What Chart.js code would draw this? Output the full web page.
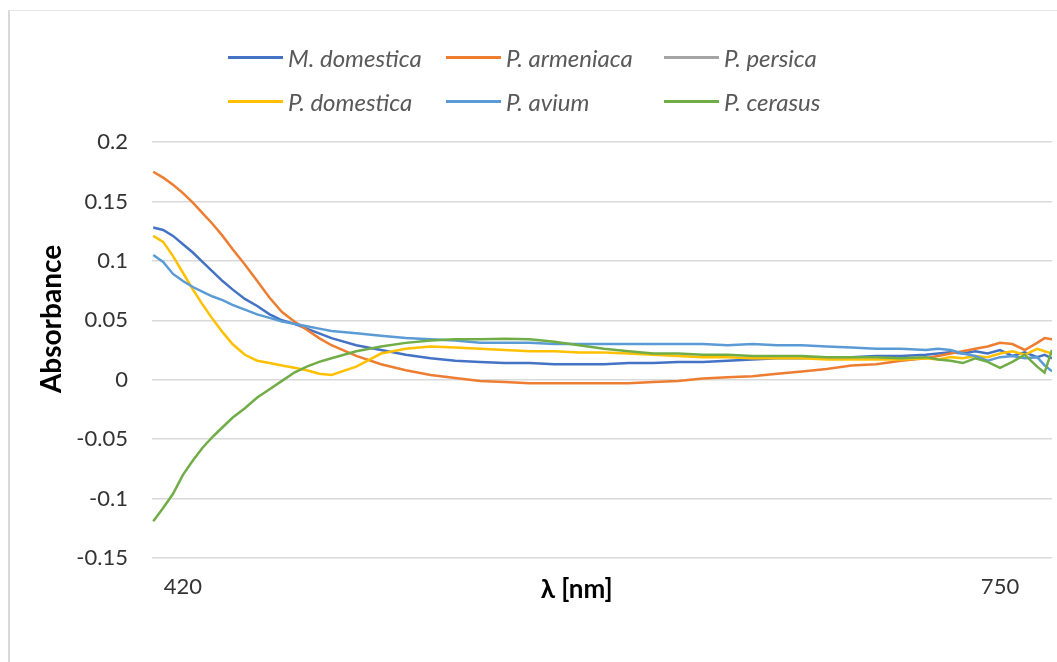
<!DOCTYPE html>
<html>
<head>
<meta charset="utf-8">
<script src="https://cdn.jsdelivr.net/npm/chart.js@4/dist/chart.umd.min.js"></script>
<style>
  html, body { margin: 0; padding: 0; background: #fff; }
  #wrap { position: relative; width: 1057px; height: 662px; overflow: hidden; }
  #frame { position: absolute; left: 8px; top: 10px; width: 1200px; height: 800px;
           border-left: 2px solid #d9d9d9; border-top: 1px solid #e6e6e6; box-sizing: border-box; }
  canvas { position: absolute; left: 0; top: 0; }
  #legend { position: absolute; left: 0; top: 0; font-family: Lato, "Open Sans", sans-serif; }
  .li { position: absolute; height: 30px; display: flex; align-items: center; white-space: nowrap;
        font-style: italic; font-size: 24px; color: #595959; }
  .li .sw { width: 55px; height: 3px; margin-right: 5px; }
</style>
</head>
<body>
<div id="wrap">
  <div id="frame"></div>
  <canvas id="c" width="1057" height="662"></canvas>
  <div id="legend"></div>
</div>
<script>
// ---- data ----
const wavelengths = [408,412,416,420,424,428,432,436,440,445,450,455,460,465,470,475,480,490,500,510,520,530,540,550,560,570,580,590,600,610,620,630,640,650,660,670,680,690,700,710,720,725,730,735,740,745,750,755,760,765,768,771];

const seriesNames = ['M. domestica', 'P. armeniaca', 'P. persica', 'P. domestica', 'P. avium', 'P. cerasus'];
const seriesColors = ['#4472C4', '#ED7D31', '#A5A5A5', '#FFC000', '#5B9BD5', '#70AD47'];

const mDomestica = [0.128,0.126,0.121,0.114,0.107,0.099,0.091,0.083,0.076,0.068,
  0.062,0.055,0.050,0.047,0.043,0.039,0.035,0.029,0.025,0.021,
  0.018,0.016,0.015,0.014,0.014,0.013,0.013,0.013,0.014,0.014,
  0.015,0.015,0.016,0.017,0.018,0.018,0.019,0.019,0.020,0.020,
  0.021,0.022,0.023,0.022,0.024,0.022,0.025,0.020,0.023,0.019,0.021,0.018];

const pArmeniaca = [0.175,0.170,0.164,0.157,0.149,0.140,0.131,0.121,0.110,0.097,
  0.083,0.069,0.057,0.049,0.042,0.035,0.029,0.020,0.013,0.008,
  0.004,0.0015,-0.001,-0.002,-0.003,-0.003,-0.003,-0.003,-0.003,-0.002,
  -0.001,0.001,0.002,0.003,0.005,0.007,0.009,0.012,0.013,0.016,
  0.018,0.020,0.022,0.024,0.026,0.028,0.031,0.030,0.025,0.031,0.035,0.034];

const pPersica = [];

const pDomestica = [0.121,0.116,0.104,0.090,0.076,0.063,0.051,0.040,0.030,0.021,
  0.016,0.014,0.012,0.010,0.008,0.005,0.004,0.011,0.022,0.026,
  0.028,0.027,0.026,0.025,0.024,0.024,0.023,0.023,0.022,0.021,
  0.020,0.019,0.019,0.018,0.018,0.018,0.017,0.017,0.017,0.017,
  0.018,0.017,0.019,0.018,0.020,0.019,0.022,0.024,0.021,0.026,0.024,0.022];

const pAvium = [0.105,0.099,0.089,0.083,0.078,0.074,0.070,0.067,0.063,0.059,
  0.055,0.052,0.049,0.047,0.045,0.043,0.041,0.039,0.037,0.035,
  0.034,0.033,0.031,0.031,0.031,0.030,0.030,0.030,0.030,0.030,
  0.030,0.030,0.029,0.030,0.029,0.029,0.028,0.027,0.026,0.026,
  0.025,0.026,0.025,0.022,0.020,0.016,0.019,0.020,0.018,0.019,0.012,0.007];

const pCerasus = [-0.119,-0.108,-0.096,-0.080,-0.068,-0.057,-0.048,-0.040,-0.032,-0.024,
  -0.015,-0.008,-0.001,0.006,0.011,0.015,0.018,0.024,0.028,0.031,
  0.033,0.034,0.034,0.0345,0.034,0.032,0.029,0.026,0.024,0.022,
  0.022,0.021,0.021,0.020,0.020,0.020,0.019,0.019,0.019,0.018,
  0.019,0.017,0.016,0.014,0.018,0.015,0.010,0.015,0.021,0.011,0.006,0.025];

const yTickValues = [-0.15, -0.1, -0.05, 0, 0.05, 0.1, 0.15, 0.2];
const yTickLabels = ['-0.15', '-0.1', '-0.05', '0', '0.05', '0.1', '0.15', '0.2'];
const xTickValues = [420, 579, 750];
const xTickLabels = ['420', 'λ [nm]', '750'];
const yTitle = 'Absorbance';

// ---- chart ----
const allSeries = [mDomestica, pArmeniaca, pPersica, pDomestica, pAvium, pCerasus];
const datasets = allSeries.map((vals, i) => ({
  label: seriesNames[i],
  data: vals.map((v, j) => ({ x: wavelengths[j], y: v })),
  borderColor: seriesColors[i],
  backgroundColor: seriesColors[i],
  borderWidth: 2.5,
  pointRadius: 0,
  tension: 0,
  fill: false,
  order: allSeries.length - i
}));

// y-axis title drawn beside the axis, at the reference's vertical position
const yTitlePlugin = {
  id: 'yTitlePlugin',
  afterDraw(chart) {
    const ctx = chart.ctx;
    ctx.save();
    ctx.translate(52, 319);
    ctx.rotate(-Math.PI / 2);
    ctx.font = 'bold 28px Lato';
    ctx.fillStyle = '#000';
    ctx.textAlign = 'center';
    ctx.textBaseline = 'middle';
    ctx.fillText(yTitle, 0, 0);
    ctx.restore();
  }
};

const chart = new Chart(document.getElementById('c'), {
  type: 'line',
  data: { datasets },
  plugins: [yTitlePlugin],
  options: {
    responsive: false,
    animation: false,
    layout: { padding: { top: 142, right: 5, bottom: 54, left: 0 } },
    plugins: { legend: { display: false }, tooltip: { enabled: false } },
    scales: {
      x: {
        type: 'linear',
        min: 407.5,
        max: 771,
        grid: { display: false, drawTicks: false },
        border: { display: false },
        afterBuildTicks: axis => { axis.ticks = xTickValues.map(v => ({ value: v })); },
        afterFit: scale => { scale.height = 50; },
        ticks: {
          padding: 16,
          maxRotation: 0,
          autoSkip: false,
          color: ctx => ctx.index === 1 ? '#000000' : '#333333',
          font: ctx => ({ family: 'Lato', size: ctx.index === 1 ? 26 : 22, weight: ctx.index === 1 ? 'bold' : 'normal' }),
          callback: (v, i) => xTickLabels[i]
        }
      },
      y: {
        min: -0.15,
        max: 0.2,
        grid: { color: '#d9d9d9', lineWidth: 1.5, drawTicks: false },
        border: { display: false },
        afterBuildTicks: axis => { axis.ticks = yTickValues.map(v => ({ value: v })); },
        afterFit: scale => { scale.width = 152; },
        title: { display: false, text: yTitle },
        ticks: {
          padding: 24,
          color: '#333333',
          font: { family: 'Lato', size: 22 },
          callback: (v, i) => yTickLabels[i]
        }
      }
    }
  }
});

// ---- legend (HTML, from the chart's datasets) ----
const legendPos = [[228, 57], [446, 57], [664, 57], [228, 101], [446, 101], [664, 101]];
const legendEl = document.getElementById('legend');
chart.data.datasets.forEach((ds, i) => {
  const item = document.createElement('div');
  item.className = 'li';
  item.style.left = legendPos[i][0] + 'px';
  item.style.top = (legendPos[i][1] - 15) + 'px';
  const sw = document.createElement('span');
  sw.className = 'sw';
  sw.style.background = ds.borderColor;
  const tx = document.createElement('span');
  tx.textContent = ds.label;
  item.appendChild(sw);
  item.appendChild(tx);
  legendEl.appendChild(item);
});
</script>
</body>
</html>
